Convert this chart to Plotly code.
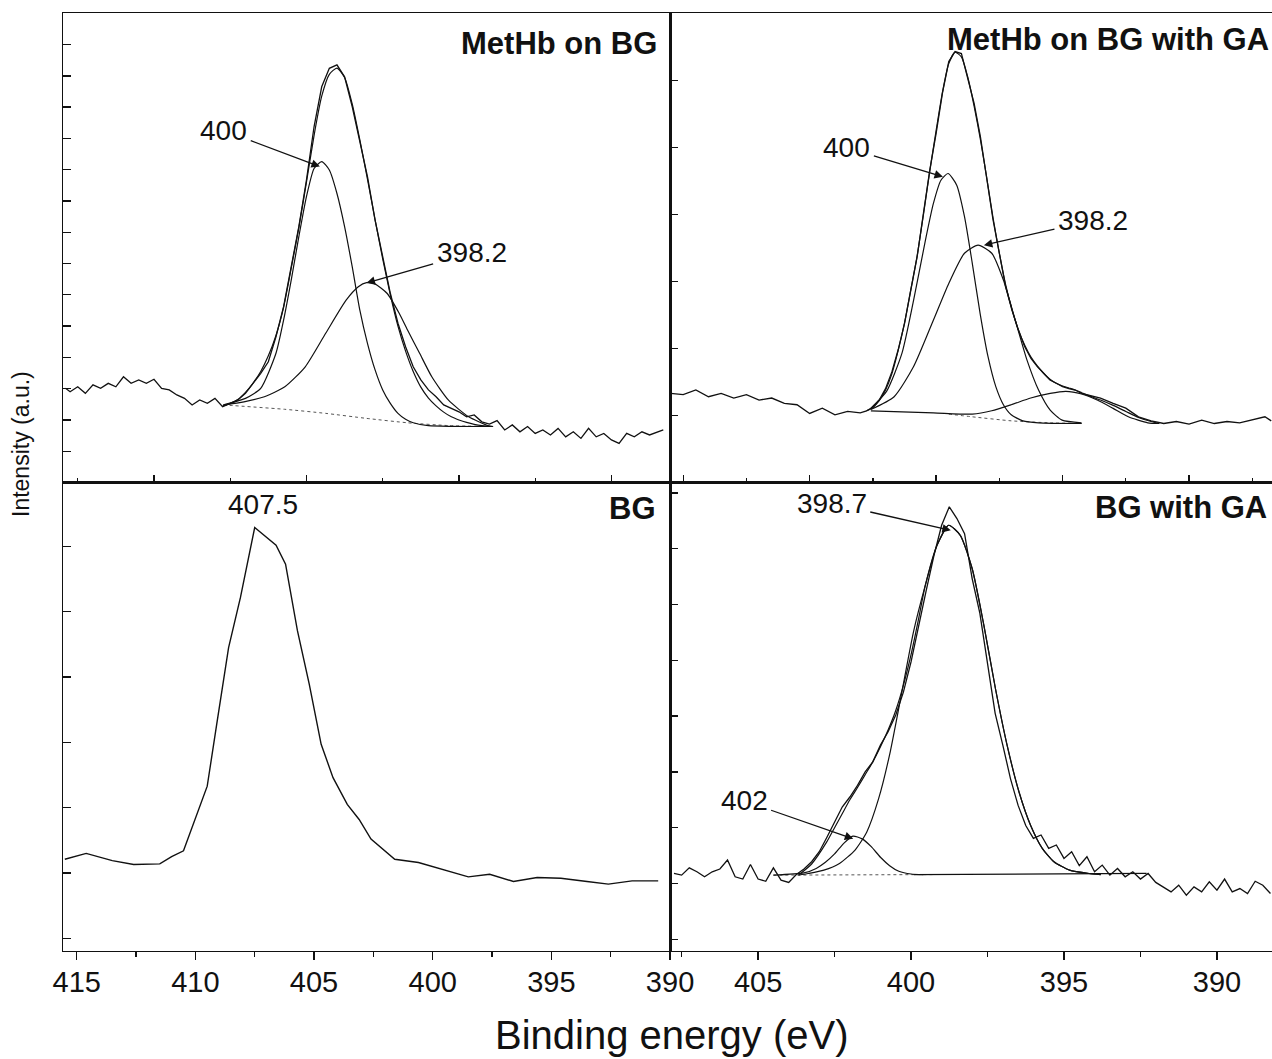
import plotly.graph_objects as go

# ---------------- data ----------------
# Top-left: MetHb on BG
tl_x = [407.9, 407.75, 407.5, 407.25, 407.0, 406.75, 406.5, 406.25, 406.0, 405.75, 405.5, 405.25, 405.0,
        404.75, 404.5, 404.25, 404.0, 403.75, 403.5, 403.25, 403.0, 402.75, 402.5, 402.25, 402.0, 401.75,
        401.5, 401.25, 401.0, 400.75, 400.5, 400.25, 400.0, 399.75, 399.5, 399.25, 399.0, 398.75, 398.5,
        398.25, 398.0, 397.75, 397.5, 397.25, 397.0, 396.75, 396.5, 396.25, 396.0, 395.75, 395.5, 395.25,
        395.0, 394.75, 394.5, 394.25, 394.0, 393.75, 393.5, 393.25, 393.0, 392.75, 392.5, 392.25, 392.0,
        391.75, 391.5, 391.25, 391.0, 390.75, 390.5, 390.25, 390.0, 389.75, 389.5, 389.25, 389.0, 388.75,
        388.5, 388.3]
tl_raw = [3.01, 2.90, 3.06, 2.85, 3.12, 3.01, 3.17, 3.06, 3.38, 3.17, 3.28, 3.17, 3.30,
          3.01, 2.96, 2.80, 2.69, 2.48, 2.64, 2.53, 2.69, 2.42, 2.53, 2.64, 2.85, 3.17,
          3.49, 3.86, 4.66, 5.62, 6.90, 8.18, 9.67, 11.38, 12.65, 13.24, 13.35, 12.97, 12.02,
          10.95, 9.78, 8.39, 7.22, 6.05, 5.09, 4.34, 3.70, 3.28, 2.96, 2.74, 2.48, 2.37,
          2.26, 2.10, 2.16, 1.94, 1.87, 1.98, 1.68, 1.84, 1.62, 1.79, 1.57, 1.68, 1.52,
          1.73, 1.46, 1.62, 1.41, 1.73, 1.46, 1.57, 1.36, 1.25, 1.57, 1.46, 1.62, 1.52,
          1.62, 1.68]
tl_env_x = [402.75, 402.5, 402.25, 402.0, 401.75, 401.5, 401.25, 401.0, 400.75, 400.5, 400.25, 400.0,
            399.75, 399.5, 399.25, 399.0, 398.75, 398.5, 398.25, 398.0, 397.75, 397.5, 397.25, 397.0,
            396.75, 396.5, 396.25, 396.0, 395.75, 395.5, 395.25, 395.0, 394.75, 394.5, 394.25, 394.0]
tl_env = [2.45, 2.52, 2.65, 2.88, 3.18, 3.55, 4.05, 4.70, 5.60, 6.85, 8.15, 9.60,
          11.10, 12.35, 13.05, 13.25, 12.95, 12.10, 10.95, 9.70, 8.40, 7.15, 6.00, 5.00,
          4.20, 3.55, 3.05, 2.70, 2.45, 2.25, 2.10, 2.00, 1.92, 1.86, 1.82, 1.80]
tl_p400_x = [402.72, 402.0, 401.5, 401.0, 400.75, 400.5, 400.25, 400.0, 399.75, 399.5, 399.25, 399.0,
             398.75, 398.5, 398.25, 398.0, 397.75, 397.5, 397.25, 397.0, 396.75, 396.5, 396.0, 393.9]
tl_p400 = [2.48, 2.69, 3.01, 4.13, 5.19, 6.47, 7.86, 9.14, 10.04, 10.26, 9.99, 9.24,
           8.18, 6.90, 5.51, 4.45, 3.60, 2.96, 2.53, 2.21, 2.02, 1.91, 1.82, 1.79]
tl_p398_x = [402.72, 402.05, 401.38, 400.71, 400.04, 399.37, 398.70, 398.30, 398.03, 397.76, 397.36,
             396.96, 396.69, 396.29, 395.89, 395.35, 394.68, 394.02, 393.88]
tl_p398 = [2.48, 2.58, 2.74, 3.06, 3.70, 4.77, 5.83, 6.26, 6.39, 6.35, 6.05,
           5.41, 4.88, 4.13, 3.38, 2.64, 2.10, 1.81, 1.79]
tl_bg_x = [402.72, 400.71, 399.37, 398.03, 396.69, 395.35, 393.88]
tl_bg = [2.48, 2.34, 2.21, 2.05, 1.91, 1.82, 1.79]

# Top-right: MetHb on BG with GA
tr_x = [410.5, 410.0, 409.5, 409.0, 408.5, 408.0, 407.5, 407.0, 406.5, 406.0, 405.5, 405.0, 404.5,
        404.0, 403.5, 403.0, 402.75, 402.5, 402.25, 402.0, 401.75, 401.5, 401.25, 401.0, 400.75,
        400.5, 400.25, 400.0, 399.75, 399.5, 399.25, 399.0, 398.75, 398.5, 398.25, 398.0, 397.75,
        397.5, 397.25, 397.0, 396.75, 396.5, 396.25, 396.0, 395.75, 395.5, 395.25, 395.0, 394.75,
        394.5, 394.25, 394.0, 393.5, 393.0, 392.5, 392.0, 391.5, 391.0, 390.5, 390.0, 389.5, 389.0,
        388.5, 388.0, 387.5, 387.0, 386.75]
tr_raw = [1.33, 1.31, 1.38, 1.28, 1.33, 1.26, 1.31, 1.23, 1.26, 1.18, 1.16, 1.03, 1.11,
          1.01, 1.06, 1.04, 1.07, 1.12, 1.23, 1.40, 1.65, 1.98, 2.37, 2.87, 3.37,
          4.02, 4.66, 5.21, 5.81, 6.28, 6.43, 6.40, 6.05, 5.66, 5.16, 4.56, 3.92,
          3.42, 2.92, 2.57, 2.28, 2.03, 1.85, 1.73, 1.63, 1.53, 1.48, 1.43, 1.40,
          1.38, 1.33, 1.31, 1.26, 1.18, 1.11, 0.98, 0.92, 0.88, 0.91, 0.87, 0.93, 0.88,
          0.91, 0.89, 0.93, 0.98, 0.92]
tr_env_x = [402.75, 402.5, 402.25, 402.0, 401.75, 401.5, 401.25, 401.0, 400.75, 400.5, 400.25, 400.0,
            399.75, 399.5, 399.25, 399.0, 398.75, 398.5, 398.25, 398.0, 397.75, 397.5, 397.25, 397.0,
            396.75, 396.5, 396.25, 396.0, 395.75, 395.5, 395.25, 395.0, 394.75, 394.5, 394.25, 394.0,
            393.5, 393.0, 392.5, 392.0, 391.5, 391.2]
tr_env = [1.07, 1.12, 1.22, 1.38, 1.62, 1.97, 2.38, 2.88, 3.38, 4.00, 4.65, 5.25,
          5.82, 6.25, 6.42, 6.35, 6.05, 5.62, 5.12, 4.55, 3.95, 3.42, 2.95, 2.58,
          2.28, 2.05, 1.87, 1.74, 1.63, 1.54, 1.48, 1.44, 1.41, 1.38, 1.34, 1.30,
          1.23, 1.15, 1.06, 0.97, 0.91, 0.88]
tr_p400_x = [402.58, 401.96, 401.35, 400.89, 400.42, 400.11, 399.81, 399.53, 399.19, 398.88, 398.57,
             398.26, 397.95, 397.64, 397.34, 397.03, 396.57, 395.95, 394.25]
tr_p400 = [1.11, 1.36, 1.93, 2.72, 3.62, 4.16, 4.51, 4.61, 4.44, 3.97, 3.27,
           2.52, 1.88, 1.43, 1.16, 1.01, 0.92, 0.89, 0.88]
tr_p398_x = [402.58, 401.66, 400.89, 400.11, 399.50, 398.88, 398.34, 397.80, 397.34, 396.87, 396.41,
             395.95, 395.49, 395.02, 394.25]
tr_p398 = [1.09, 1.28, 1.73, 2.42, 2.97, 3.42, 3.54, 3.42, 3.02, 2.42, 1.83,
           1.38, 1.08, 0.93, 0.89]
tr_p395_x = [402.58, 400.11, 398.57, 397.80, 397.03, 396.26, 395.49, 394.87, 394.25, 393.63, 393.02,
             392.40, 391.63, 391.17]
tr_p395 = [1.07, 1.04, 1.02, 1.07, 1.16, 1.26, 1.33, 1.36, 1.32, 1.23, 1.11,
           0.98, 0.89, 0.88]
tr_bg_x = [399.50, 398.57, 397.03, 395.49, 394.25]
tr_bg = [1.02, 0.98, 0.92, 0.89, 0.88]

# Bottom-left: BG
bl_x = [415.5, 414.6, 413.5, 412.6, 411.5, 411.0, 410.5, 410.0, 409.5, 409.1, 408.6, 408.1, 407.5,
        406.6, 406.2, 405.7, 405.2, 404.7, 404.2, 403.6, 403.1, 402.6, 402.1, 401.6, 400.6, 399.5,
        398.5, 397.6, 396.6, 395.6, 394.6, 393.5, 392.6, 391.6, 390.5]
bl_y = [1.21, 1.30, 1.19, 1.13, 1.14, 1.25, 1.34, 1.85, 2.33, 3.28, 4.45, 5.22, 6.29,
        6.02, 5.73, 4.71, 3.89, 2.97, 2.46, 2.05, 1.82, 1.52, 1.36, 1.21, 1.16, 1.04,
        0.94, 0.98, 0.87, 0.93, 0.92, 0.87, 0.83, 0.88, 0.88]

# Bottom-right: BG with GA
br_x = [407.75, 407.5, 407.25, 407.0, 406.75, 406.5, 406.25, 406.0, 405.75, 405.5, 405.25, 405.0,
        404.75, 404.5, 404.25, 404.0, 403.75, 403.5, 403.25, 403.0, 402.75, 402.5, 402.25, 402.0,
        401.75, 401.5, 401.25, 401.0, 400.75, 400.5, 400.25, 400.0, 399.75, 399.5, 399.25, 399.0,
        398.75, 398.5, 398.25, 398.0, 397.75, 397.5, 397.25, 397.0, 396.75, 396.5, 396.25, 396.0,
        395.75, 395.5, 395.25, 395.0, 394.75, 394.5, 394.25, 394.0, 393.75, 393.5, 393.25, 393.0,
        392.75, 392.5, 392.25, 392.0, 391.75, 391.5, 391.25, 391.0, 390.75, 390.5, 390.25, 390.0,
        389.75, 389.5, 389.25, 389.0, 388.75, 388.5, 388.25]
br_raw = [1.18, 1.15, 1.28, 1.21, 1.12, 1.21, 1.26, 1.42, 1.12, 1.08, 1.34, 1.08,
          1.04, 1.28, 1.06, 1.02, 1.16, 1.26, 1.39, 1.57, 1.83, 2.10, 2.37, 2.55,
          2.76, 3.00, 3.18, 3.48, 3.72, 4.02, 4.43, 4.97, 5.63, 6.26, 6.88, 7.42,
          7.75, 7.54, 7.27, 6.46, 5.84, 4.97, 4.05, 3.48, 2.88, 2.40, 2.04, 1.81,
          1.87, 1.63, 1.69, 1.45, 1.57, 1.32, 1.48, 1.21, 1.33, 1.15, 1.27, 1.12,
          1.21, 1.08, 1.18, 1.02, 0.94, 0.85, 0.97, 0.79, 0.94, 0.85, 1.03, 0.88,
          1.08, 0.85, 0.91, 0.82, 1.04, 0.97, 0.82]
br_env_x = [403.68, 403.25, 402.75, 402.5, 402.25, 402.0, 401.75, 401.5, 401.25, 401.0, 400.75, 400.5,
            400.25, 400.0, 399.75, 399.53, 399.15, 398.77, 398.39, 398.0, 397.62, 397.24, 396.86,
            396.47, 396.09, 395.71, 395.33, 394.82, 394.18, 393.80]
br_env = [1.15, 1.35, 1.75, 2.00, 2.25, 2.50, 2.72, 2.95, 3.18, 3.45, 3.75, 4.10,
          4.55, 5.10, 5.75, 6.35, 7.06, 7.42, 7.24, 6.64, 5.63, 4.49, 3.48,
          2.64, 2.04, 1.63, 1.39, 1.24, 1.18, 1.16]
br_p398_x = [403.68, 403.36, 402.85, 402.34, 401.83, 401.45, 401.06, 400.68, 400.30, 399.92, 399.53,
             399.15, 398.77, 398.39, 398.00, 397.62, 397.24, 396.86, 396.47, 396.09, 395.71, 395.33,
             394.82, 394.18, 393.80]
br_p398 = [1.15, 1.18, 1.24, 1.36, 1.60, 1.92, 2.52, 3.36, 4.43, 5.51, 6.35,
           7.06, 7.42, 7.24, 6.64, 5.63, 4.49, 3.48, 2.64, 2.04, 1.63, 1.39,
           1.24, 1.18, 1.16]
br_p402_x = [404.5, 403.5, 403.1, 402.8, 402.5, 402.2, 401.9, 401.6, 401.3, 401.0, 400.7, 400.4, 400.0, 399.6]
br_p402 = [1.15, 1.19, 1.27, 1.38, 1.53, 1.72, 1.85, 1.80, 1.66, 1.47, 1.32, 1.22, 1.17, 1.16]
br_bg_x = [404.5, 399.3]
br_bg = [1.15, 1.16]
br_base_x = [399.9, 392.3]
br_base = [1.16, 1.18]

# tick values
bottom_left_ticks = [415, 410, 405, 400, 395, 390]
bottom_right_ticks = [405, 400, 395, 390]

# ---------------- figure ----------------
FONT = "Liberation Sans, Arial, sans-serif"
BLACK = "#111111"
W, H = 1272, 1059


def px(x):
    return x / W


def py(y):
    return 1 - y / H


fig = go.Figure()


def line(x, y, ax, width=1.3, dash=None, color=BLACK, shape="linear"):
    fig.add_trace(go.Scatter(
        x=x, y=y, mode="lines", xaxis="x" + ax, yaxis="y" + ax,
        line=dict(color=color, width=width, dash=dash, shape=shape, smoothing=0.6),
        showlegend=False, hoverinfo="skip"))


# top-left
line(tl_bg_x, tl_bg, "", width=1.0, dash="dot", color="#555555", shape="spline")
line(tl_p400_x, tl_p400, "", width=1.2, shape="spline")
line(tl_p398_x, tl_p398, "", width=1.2, shape="spline")
line(tl_env_x, tl_env, "", width=1.2, shape="spline")
line(tl_x, tl_raw, "", width=1.3)

# top-right
line(tr_bg_x, tr_bg, "2", width=1.0, dash="dot", color="#555555", shape="spline")
line(tr_p395_x, tr_p395, "2", width=1.2, shape="spline")
line(tr_p400_x, tr_p400, "2", width=1.2, shape="spline")
line(tr_p398_x, tr_p398, "2", width=1.2, shape="spline")
line(tr_env_x, tr_env, "2", width=1.2, shape="spline")
line(tr_x, tr_raw, "2", width=1.3)

# bottom-left
line(bl_x, bl_y, "3", width=1.4)

# bottom-right
line(br_bg_x, br_bg, "4", width=1.0, dash="dot", color="#555555")
line(br_base_x, br_base, "4", width=1.2)
line(br_p402_x, br_p402, "4", width=1.2, shape="spline")
line(br_p398_x, br_p398, "4", width=1.2, shape="spline")
line(br_env_x, br_env, "4", width=1.2, shape="spline")
line(br_x, br_raw, "4", width=1.3)

XL = [px(63.4), px(670.3)]
XR = [px(670.3), 1.0]
YT = [py(482.5), py(13.3)]
YB = [py(950.7), py(482.5)]


def xax(domain, rng, anchor, labels, ticks, mirror=True, tickvals=None):
    d = dict(domain=domain, range=rng, anchor=anchor, showline=True, linecolor=BLACK, linewidth=1.5,
             mirror=mirror, showgrid=False, zeroline=False, ticks=ticks, ticklen=8, tickwidth=1.3,
             tickcolor=BLACK, tick0=390, dtick=5, showticklabels=labels, automargin=False,
             ticklabelstandoff=-3,
             tickfont=dict(family=FONT, size=29, color=BLACK),
             minor=dict(ticks=ticks, ticklen=5, tickwidth=1.3, tickcolor=BLACK, tick0=390, dtick=2.5,
                        showgrid=False))
    if tickvals is not None:
        d["tickmode"] = "array"
        d["tickvals"] = tickvals
    return d


def yax(domain, rng, anchor, mirror=True):
    return dict(domain=domain, range=rng, anchor=anchor, showline=True, linecolor=BLACK, linewidth=1.5,
                mirror=mirror, showgrid=False, zeroline=False, ticks="inside", ticklen=8, tickwidth=1.3,
                tickcolor=BLACK, tick0=0, dtick=1, showticklabels=False, automargin=False)


fig.update_layout(
    width=W, height=H, autosize=False,
    margin=dict(l=0, r=0, t=0, b=0, pad=0, autoexpand=False),
    paper_bgcolor="white", plot_bgcolor="white",
    font=dict(family=FONT, color=BLACK),
    xaxis=xax(XL, [407.97, 388.07], "y", False, "inside"),
    yaxis=yax(YT, [0, 15], "x"),
    xaxis2=xax(XR, [410.51, 386.72], "y2", False, "inside"),
    yaxis2=yax(YT, [0, 7], "x2", mirror=False),
    xaxis3=xax(XL, [415.56, 389.99], "y3", True, "outside", tickvals=bottom_left_ticks),
    yaxis3=yax(YB, [-0.19, 6.98], "x3"),
    xaxis4=xax(XR, [407.87, 388.2], "y4", True, "outside", tickvals=bottom_right_ticks),
    yaxis4=yax(YB, [-0.204, 8.186], "x4", mirror=False),
)


def label(text, x, y, hx, hy, axref=""):
    fig.add_annotation(x=hx, y=hy, xref="x" + axref, yref="y" + axref, ax=x, ay=y,
                       text=text, showarrow=True, arrowhead=2, arrowsize=1.3, arrowwidth=1.3,
                       arrowcolor=BLACK, standoff=0, startstandoff=2,
                       font=dict(family=FONT, size=28, color=BLACK))


label("400", -96, -36, 399.56, 10.1)
label("398.2", 105, -30, 398.03, 6.38)
label("400", -96, -29, 399.73, 4.56, "2")
label("398.2", 109, -25, 398.11, 3.54, "2")
label("398.7", -119, -27, 398.70, 7.33, "4")
label("402", -109, -38, 401.89, 1.80, "4")

fig.add_annotation(x=407.14, y=6.65, xref="x3", yref="y3", text="407.5", showarrow=False,
                   font=dict(family=FONT, size=28, color=BLACK))

for text, tx, ty in [("MetHb on BG", 659, 43.5), ("MetHb on BG with GA", 1271, 40),
                     ("BG", 658, 508), ("BG with GA", 1269, 507.5)]:
    fig.add_annotation(x=px(tx), y=py(ty), xref="paper", yref="paper", text="<b>" + text + "</b>",
                       showarrow=False, xanchor="right", yanchor="middle",
                       font=dict(family=FONT, size=31, color=BLACK))

fig.add_annotation(x=px(672), y=0, xref="paper", yref="paper", text="Binding energy (eV)",
                   showarrow=False, xanchor="center", yanchor="bottom",
                   font=dict(family=FONT, size=40, color=BLACK))
fig.add_annotation(x=px(21), y=py(444), xref="paper", yref="paper", text="Intensity (a.u.)",
                   showarrow=False, textangle=-90, xanchor="center", yanchor="middle",
                   font=dict(family=FONT, size=23, color=BLACK))

# the page itself has no margin, so the figure starts at the window's top-left corner
fig.write_html("out.html",
               config={"displayModeBar": False, "staticPlot": True},
               post_script="document.body.style.margin='0px';"
                           "document.body.style.overflow='hidden';"
                           "document.documentElement.style.overflow='hidden';")
